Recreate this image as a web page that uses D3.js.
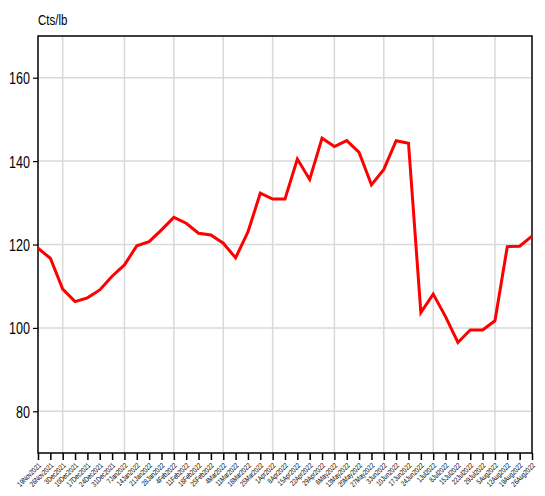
<!DOCTYPE html>
<html><head><meta charset="utf-8">
<script src="https://cdn.jsdelivr.net/npm/d3@7"></script>
<style>body{margin:0;background:#fff}svg{display:block}</style>
</head><body>
<svg id="c" width="545" height="496"></svg>
<script>
const weeks = ["19Nov2021","26Nov2021","3Dec2021","10Dec2021","17Dec2021","24Dec2021","31Dec2021",
"7Jan2022","14Jan2022","21Jan2022","28Jan2022","4Feb2022","11Feb2022","18Feb2022","25Feb2022",
"4Mar2022","11Mar2022","18Mar2022","25Mar2022","1Apr2022","8Apr2022","15Apr2022","22Apr2022","29Apr2022",
"6May2022","13May2022","20May2022","27May2022","3Jun2022","10Jun2022","17Jun2022","24Jun2022",
"1Jul2022","8Jul2022","15Jul2022","22Jul2022","29Jul2022","5Aug2022","12Aug2022","19Aug2022","26Aug2022"];
const prices = [119.1,116.7,109.3,106.3,107.2,109.1,112.4,115.1,119.7,120.7,123.5,126.5,125.1,122.7,122.3,
120.3,116.8,123.0,132.3,130.9,130.9,140.5,135.6,145.5,143.5,144.9,142.1,134.3,138.0,144.9,144.3,
103.7,108.1,102.7,96.5,99.5,99.5,101.7,119.5,119.6,122.0];
const yTicks = [80,100,120,140,160];
const monthGridWeeks = ["3Dec2021","7Jan2022","4Feb2022","4Mar2022","1Apr2022","6May2022","3Jun2022","1Jul2022","5Aug2022"];
const yDomain = [70,170];
const unitLabel = "Cts/lb";

const svg = d3.select("#c");
const L=38, R=532, T=36, B=453;
const x = d3.scalePoint().domain(weeks).range([L,R]);
const y = d3.scaleLinear().domain(yDomain).range([B,T]);
const font = "'Liberation Sans',Arial,sans-serif";

// grid
svg.append("g").selectAll("line").data(monthGridWeeks).join("line")
  .attr("x1",d=>x(d)).attr("x2",d=>x(d)).attr("y1",T).attr("y2",B)
  .attr("stroke","#d9d9d9").attr("stroke-width",1.5);
svg.append("g").selectAll("line").data(yTicks).join("line")
  .attr("x1",L).attr("x2",R).attr("y1",d=>y(d)).attr("y2",d=>y(d))
  .attr("stroke","#d9d9d9").attr("stroke-width",1.5);

// y axis
const ys = 0.74;
const ya = svg.append("g").attr("transform",`translate(${L},0)`)
  .call(d3.axisLeft(y).tickValues(yTicks).tickSize(5).tickPadding(3));
ya.select(".domain").remove();
ya.selectAll("line").attr("stroke","#000").attr("stroke-width",1.2);
ya.selectAll("text").attr("font-family",font).attr("font-size",17).attr("fill","#000")
  .attr("dy","0.35em").attr("x",-8/ys).attr("transform",`scale(${ys},1)`);

// x axis
const xa = svg.append("g").attr("transform",`translate(0,${B})`)
  .call(d3.axisBottom(x).tickSize(7).tickPadding(3));
xa.select(".domain").remove();
xa.selectAll("line").attr("stroke","#000").attr("stroke-width",1.5);
xa.selectAll("text").attr("font-family",font).attr("font-size",7.5).attr("fill","#000")
  .attr("text-anchor","end").attr("dy","0").attr("y",0)
  .attr("transform","translate(3,13) rotate(-45) scale(0.78,1)");

// frame
svg.append("rect").attr("x",L).attr("y",T).attr("width",R-L).attr("height",B-T)
  .attr("fill","none").attr("stroke","#000").attr("stroke-width",1.5);

// line
svg.append("path").datum(prices)
  .attr("d",d3.line().x((d,i)=>x(weeks[i])).y(d=>y(d)))
  .attr("fill","none").attr("stroke","#ff0000").attr("stroke-width",3).attr("stroke-linejoin","miter");

svg.append("text").attr("x",L/0.82).attr("y",25).text(unitLabel)
  .attr("transform","scale(0.82,1)")
  .attr("font-family",font).attr("font-size",14).attr("fill","#000");
</script>
</body></html>
